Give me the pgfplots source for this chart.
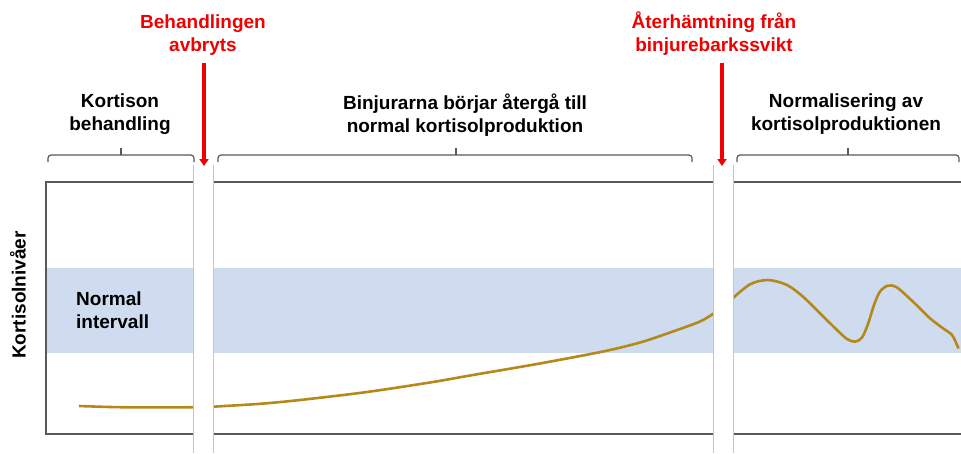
\documentclass[border=0pt]{standalone}
\usepackage{pgfplots}
\pgfplotsset{compat=1.18}
\usepackage{fontspec}
\setmainfont{Liberation Sans}
\usetikzlibrary{arrows.meta}
\definecolor{band}{HTML}{CFDBEF}
\definecolor{curvec}{HTML}{B5881A}
\definecolor{framec}{HTML}{595959}
\definecolor{gapline}{HTML}{B8C6E0}
\definecolor{redc}{HTML}{F00000}
\tikzset{lbl/.style={font=\fontsize{19}{23}\selectfont\bfseries, align=center, inner sep=0pt}}
\begin{document}
\begin{tikzpicture}
\begin{axis}[
  scale only axis, width=961pt, height=453pt,
  xmin=0, xmax=961, ymin=0, ymax=453, y dir=reverse,
  hide axis, clip=false,
]
% normal range band
\addplot[fill=band, draw=none] coordinates {(47,268) (961,268) (961,353) (47,353)} -- cycle;
% frame
\addplot[framec, line width=1.5pt] coordinates {(961,182) (46,182) (46,434) (961,434)};
% cortisol curve, three phases
\addplot[curvec, line width=2.6pt, smooth, tension=0.5] coordinates {
 (79,406) (110,407) (140,407.4) (170,407.4) (195,407.2)};
\addplot[curvec, line width=2.6pt, smooth, tension=0.5] coordinates {
 (211,406.8) (260,403.8) (300,400) (367,392) (433,382) (470,375.5) (537,364)
 (603,351.5) (640,342.5) (670,332.5) (700,321.5) (715,312.5)};
\addplot[curvec, line width=2.6pt, smooth, tension=0.5] coordinates {
 (732,299) (750,284.3) (768,280) (787,285) (803,296.7) (820,313.3) (837,330)
 (847,339) (855,341.7) (862,337.5) (868,324) (874,305) (880,291.5) (888,285.6)
 (897,287.5) (913,301.7) (930,318.3) (943,328.3) (952,335) (957,345) (958.5,348.5)};
% breaks
\fill[white] (axis cs:193,160) rectangle (axis cs:213,453);
\fill[white] (axis cs:713,160) rectangle (axis cs:733,453);
\draw[gapline, line width=0.8pt] (axis cs:193,165) -- (axis cs:193,453);
\draw[gapline, line width=0.8pt] (axis cs:213,165) -- (axis cs:213,453);
\draw[gapline, line width=0.8pt] (axis cs:713,165) -- (axis cs:713,453);
\draw[gapline, line width=0.8pt] (axis cs:733,165) -- (axis cs:733,453);
% brackets
\draw[framec, line width=1.2pt, rounded corners=3pt] (axis cs:48,162) -- (axis cs:48,155) -- (axis cs:194,155) -- (axis cs:194,162);
\draw[framec, line width=1.2pt] (axis cs:121,155) -- (axis cs:121,148);
\draw[framec, line width=1.2pt, rounded corners=3pt] (axis cs:218,162) -- (axis cs:218,155) -- (axis cs:692,155) -- (axis cs:692,162);
\draw[framec, line width=1.2pt] (axis cs:456,155) -- (axis cs:456,148);
\draw[framec, line width=1.2pt, rounded corners=3pt] (axis cs:737,162) -- (axis cs:737,155) -- (axis cs:959,155) -- (axis cs:959,162);
\draw[framec, line width=1.2pt] (axis cs:848,155) -- (axis cs:848,148);
% arrows
\draw[redc, line width=3.5pt, -{Triangle[width=9pt,length=7pt]}] (axis cs:204,63) -- (axis cs:204,166);
\draw[redc, line width=3.5pt, -{Triangle[width=9pt,length=7pt]}] (axis cs:722,63) -- (axis cs:722,166);
% labels
\node[lbl, text=redc] at (axis cs:203,35.5) {Behandlingen\\avbryts};
\node[lbl, text=redc] at (axis cs:714,34) {Återhämtning från\\binjurebarkssvikt};
\node[lbl] at (axis cs:120,114.5) {Kortison\\behandling};
\node[lbl] at (axis cs:465,115) {Binjurarna börjar återgå till\\normal kortisolproduktion};
\node[lbl] at (axis cs:846,114.5) {Normalisering av\\kortisolproduktionen};
\node[lbl, anchor=west, align=left] at (axis cs:76,310) {Normal\\intervall};
\node[lbl, rotate=90] at (axis cs:18,295) {Kortisolnivåer};
\end{axis}
\pgfresetboundingbox
\path (0,0) rectangle (961pt,453pt);
\end{tikzpicture}
\end{document}
